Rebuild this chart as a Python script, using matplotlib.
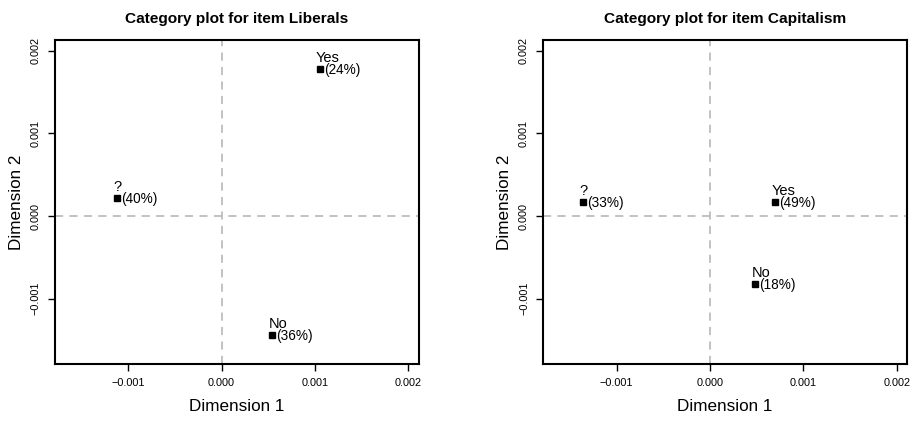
import matplotlib
matplotlib.use("Agg")
import matplotlib.pyplot as plt

plt.rcParams['font.family'] = ['Liberation Sans', 'DejaVu Sans']

titles = ["Category plot for item Liberals", "Category plot for item Capitalism"]
categories = ["?", "Yes", "No"]
dim1_liberals = [-0.00112, 0.00105, 0.00054]
dim2_liberals = [0.000218, 0.00178, -0.00144]
pct_liberals = ["(40%)", "(24%)", "(36%)"]
dim1_capitalism = [-0.00136, 0.000695, 0.00048]
dim2_capitalism = [0.000172, 0.000172, -0.00082]
pct_capitalism = ["(33%)", "(49%)", "(18%)"]
ticks = [-0.001, 0.000, 0.001, 0.002]
tick_labels = ["\u22120.001", "0.000", "0.001", "0.002"]

W, H = 916, 421
fig = plt.figure(figsize=(W / 100, H / 100), dpi=100)

panels = [
    (titles[0], dim1_liberals, dim2_liberals, pct_liberals, 54.5),
    (titles[1], dim1_capitalism, dim2_capitalism, pct_capitalism, 543),
]
for title, xs, ys, pcts, left in panels:
    ax = fig.add_axes([left / W, (H - 364) / H, 364 / W, 324 / H])
    ax.set_xlim(-0.00179, 0.00211)
    ax.set_ylim(-0.00179, 0.00213)
    ax.axhline(0, color="#bdbdbd", ls=(0, (4.5, 3.5)), lw=1.3, zorder=1)
    ax.axvline(0, color="#bdbdbd", ls=(0, (4.5, 3.5)), lw=1.3, zorder=1)
    ax.plot(xs, ys, ls="none", marker="s", ms=3.8, color="black", zorder=3)
    for cat, x, y, p in zip(categories, xs, ys, pcts):
        ax.annotate(cat, (x, y), xytext=(-2.5, 3.0), textcoords="offset points",
                    ha="left", va="bottom", fontsize=10.5)
        ax.annotate(p, (x, y), xytext=(3.2, -1.0), textcoords="offset points",
                    ha="left", va="center", fontsize=9.8)
    ax.set_xticks(ticks)
    ax.set_xticklabels(tick_labels, fontsize=7.8)
    ax.set_yticks(ticks)
    ax.set_yticklabels(tick_labels, fontsize=7.8, rotation=90, va="center")
    ax.tick_params(length=5, width=1.0, pad=5)
    for s in ax.spines.values():
        s.set_linewidth(1.5)
    ax.set_xlabel("Dimension 1", fontsize=12.3, labelpad=8)
    ax.set_ylabel("Dimension 2", fontsize=12.3, labelpad=5)
    ax.set_title(title, fontsize=11.1, fontweight="bold", pad=12)

fig.savefig("out.png", dpi=100)
